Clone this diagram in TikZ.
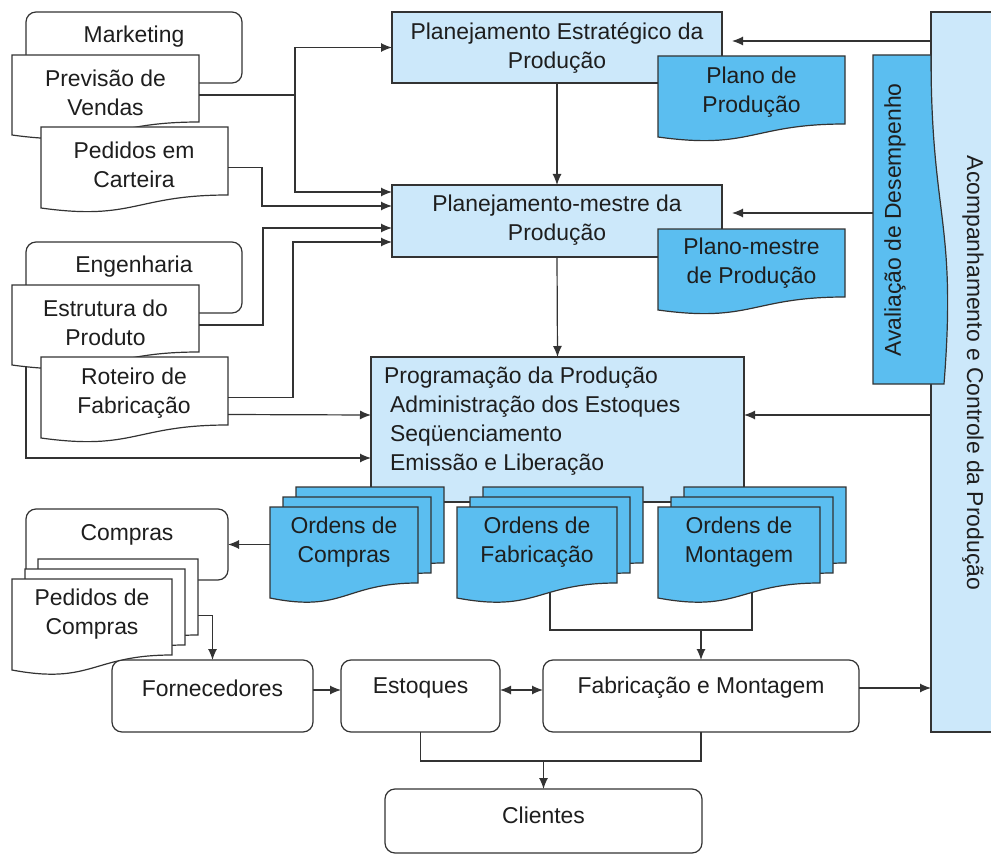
\documentclass[tikz,border=0pt]{standalone}
\usepackage{fontspec}
\setmainfont{Liberation Sans}
\usetikzlibrary{arrows.meta,calc}
\definecolor{lightblue}{HTML}{CCE8FA}
\definecolor{docblue}{HTML}{5BBEF0}
\definecolor{linegray}{HTML}{333333}
\definecolor{textgray}{HTML}{1E1E1E}
% document shape drawn round an (empty) node
\newcommand{\drawdoc}[3][13]{%
  \draw[docline, fill=#3] (#2.north west) -- (#2.north east) -- ($(#2.south east)+(0,-#1)$)
    .. controls ($(#2.south)+(0,-#1)$) and ($(#2.south)+(0,#1)$) .. (#2.south west) -- cycle;}
\begin{document}
\begin{tikzpicture}[x=1pt, y=-1pt,
    line/.style={draw=linegray, line width=1.2pt},
    arr/.style={line, -{Latex[length=11pt,width=9pt]}},
    dbl/.style={line, {Latex[length=11pt,width=9pt]}-{Latex[length=11pt,width=9pt]}},
    sz/.style 2 args={minimum width=#1pt, minimum height=#2pt, inner sep=0pt, outer sep=0pt},
    ybox/.style={line, rounded corners=10pt, fill=white},
    pbox/.style={line, fill=lightblue},
    docline/.style={line},
    txt/.style={inner sep=0pt, align=center, text=textgray, font=\fontsize{22.9}{29}\selectfont}]
    \useasboundingbox (0,0) rectangle (991,856);

    % right column
    \node[pbox, sz={62}{720}] (acomp) at (962,372) {};
    \node[sz={71}{329}] (aval) at (908.5,219.5) {};
    \draw[line, fill=docblue] (aval.north west) -- ($(aval.north east)+(-13,0)$)
        .. controls ($(aval.east)+(-13,0)$) and ($(aval.east)+(13,0)$) .. (aval.south east)
        -- (aval.south west) -- cycle;
    \node[txt, rotate=90] (avaltxt) at (895,220) {Avaliação de Desempenho};
    \node[txt, rotate=-90] (acomptxt) at (973,373) {Acompanhamento e Controle da Produção};

    % planning boxes
    \node[pbox, sz={330}{71}] (pep) at (557,47.5) {};
    \node[txt] (peptxt) at (557,47.5) {Planejamento Estratégico da\\Produção};
    \node[sz={187}{81}] (plano) at (751.5,96.5) {};
    \drawdoc{plano}{docblue}
    \node[txt] (planotxt) at (751.5,92) {Plano de\\Produção};
    \node[pbox, sz={330}{72}] (pmp) at (557,221) {};
    \node[txt] (pmptxt) at (557,220) {Planejamento-mestre da\\Produção};
    \node[sz={187}{81}] (pmestre) at (751.5,269.5) {};
    \drawdoc{pmestre}{docblue}
    \node[txt] (pmestretxt) at (751.5,263.5) {Plano-mestre\\de Produção};
    \node[pbox, sz={373}{145}] (prog) at (557.5,429.5) {};
    \node[txt, align=left, anchor=west] (progtxt) at (384,421) {Programação da Produção\\\hspace*{6pt}Administração dos Estoques\\\hspace*{6pt}Seqüenciamento\\\hspace*{6pt}Emissão e Liberação};

    % marketing / engenharia
    \node[ybox, sz={216}{71}] (mkt) at (134,47.5) {};
    \node[txt] (mkttxt) at (134,37) {Marketing};
    \node[ybox, sz={216}{71}] (eng) at (134,277.5) {};
    \node[txt] (engtxt) at (134,267) {Engenharia};
    \draw[arr] (eng.south west) |- ($(prog.west)+(0,28.5)$);
    \node[sz={187}{80}] (prev) at (105.5,95) {};
    \drawdoc{prev}{white}
    \node[txt] (prevtxt) at (105.5,92.5) {Previsão de\\Vendas};
    \node[sz={187}{81}] (ped) at (134.5,167.5) {};
    \drawdoc{ped}{white}
    \node[txt] (pedtxt) at (134,164.5) {Pedidos em\\Carteira};
    \node[sz={187}{80}] (estr) at (105.5,325) {};
    \drawdoc{estr}{white}
    \node[txt] (estrtxt) at (105.5,322.5) {Estrutura do\\Produto};
    \node[sz={187}{81}] (rot) at (134.5,397.5) {};
    \drawdoc{rot}{white}
    \node[txt] (rottxt) at (134,393.5) {Roteiro de\\Fabricação};

    % inputs to planning
    \draw[arr] (prev.east) -- ++(96,0) |- (pep.west);
    \draw[arr] (prev.east) -- ++(96,0) |- ($(pmp.north west)+(0,7)$);
    \draw[arr] (ped.east) -- ++(34,0) |- ($(pmp.north west)+(0,21)$);
    \draw[arr] (estr.east) -- ++(64,0) |- ($(pmp.north west)+(0,43)$);
    \draw[arr] (rot.east) -- ++(65,0) |- ($(pmp.north west)+(0,57)$);
    \draw[arr] ($(rot.east)+(0,17)$) -- ($(prog.west)+(0,-14.5)$);
    \draw[arr] (pep.south) -- (pmp.north);
    \draw[arr] (pmp.south) -- (prog.north);

    % feedback
    \draw[arr] ($(acomp.north west)+(0,29)$) -- ($(pep.north east)+(10,29)$);
    \draw[arr] ($(aval.west)+(0,-6.5)$) -- ($(pmp.east)+(10,-8)$);
    \draw[arr] ($(acomp.west)+(0,43)$) -- ($(prog.east)+(0,-14.5)$);

    % bottom row
    \node[ybox, sz={201}{72}] (forn) at (212.5,696) {};
    \node[txt] (forntxt) at (212.5,688) {Fornecedores};
    \node[ybox, sz={159}{72}] (estq) at (420.5,696) {};
    \node[txt] (estqtxt) at (420.5,688) {Estoques};
    \node[ybox, sz={316}{72}] (fm) at (701,696) {};
    \node[txt] (fmtxt) at (701,688) {Fabricação e Montagem};
    \node[ybox, sz={317}{64}] (cli) at (543.5,821) {};
    \node[txt] (clitxt) at (543.5,815) {Clientes};

    % orders
    \node[sz={148}{91}] (ordcA) at (370,532.5) {};
    \node[sz={148}{91}] (ordcB) at (357,542.5) {};
    \node[sz={148}{91}] (ordcC) at (344,552.5) {};
    \node[sz={160}{91}] (ordfA) at (563,532.5) {};
    \node[sz={160}{91}] (ordfB) at (550,542.5) {};
    \node[sz={160}{91}] (ordfC) at (537,552.5) {};
    \node[sz={162}{91}] (ordmA) at (765,532.5) {};
    \node[sz={162}{91}] (ordmB) at (752,542.5) {};
    \node[sz={162}{91}] (ordmC) at (739,552.5) {};
    \draw[line] (ordfB.center) |- ($(fm.north)+(0,-30)$) -| (ordmB.center);
    \draw[arr] ($(fm.north)+(0,-30)$) -- (fm.north);
    \drawdoc[15]{ordcA}{docblue}
    \drawdoc[15]{ordcB}{docblue}
    \drawdoc[15]{ordcC}{docblue}
    \node[txt] (ordctxt) at (344,542) {Ordens de\\Compras};
    \drawdoc[15]{ordfA}{docblue}
    \drawdoc[15]{ordfB}{docblue}
    \drawdoc[15]{ordfC}{docblue}
    \node[txt] (ordftxt) at (537,542) {Ordens de\\Fabricação};
    \drawdoc[15]{ordmA}{docblue}
    \drawdoc[15]{ordmB}{docblue}
    \drawdoc[15]{ordmC}{docblue}
    \node[txt] (ordmtxt) at (739,542) {Ordens de\\Montagem};

    % compras
    \node[ybox, sz={202}{71}] (compras) at (127,544.5) {};
    \node[txt] (comprastxt) at (127,535) {Compras};
    \draw[arr] (ordcC.west |- compras.east) -- (compras.east);
    \node[sz={160}{91}] (pedcA) at (118,604.5) {};
    \node[sz={160}{91}] (pedcB) at (105,614.5) {};
    \node[sz={160}{91}] (pedcC) at (92,624.5) {};
    \drawdoc[15]{pedcA}{white}
    \drawdoc[15]{pedcB}{white}
    \drawdoc[15]{pedcC}{white}
    \node[txt] (pedctxt) at (92,614) {Pedidos de\\Compras};
    \draw[arr] ($(pedcA.east)+(0,11)$) -| (forn.north);

    % material flow
    \draw[arr] ($(forn.east)+(0,-6)$) -- ($(estq.west)+(0,-6)$);
    \draw[dbl] ($(estq.east)+(0,-6)$) -- ($(fm.west)+(0,-6)$);
    \draw[arr] ($(fm.east)+(0,-8)$) -- ($(acomp.south west)+(0,-44)$);
    \draw[line] (estq.south) -- ++(0,29) -| (fm.south);
    \draw[arr] ($(cli.north)+(0,-28)$) -- (cli.north);
\end{tikzpicture}
\end{document}
